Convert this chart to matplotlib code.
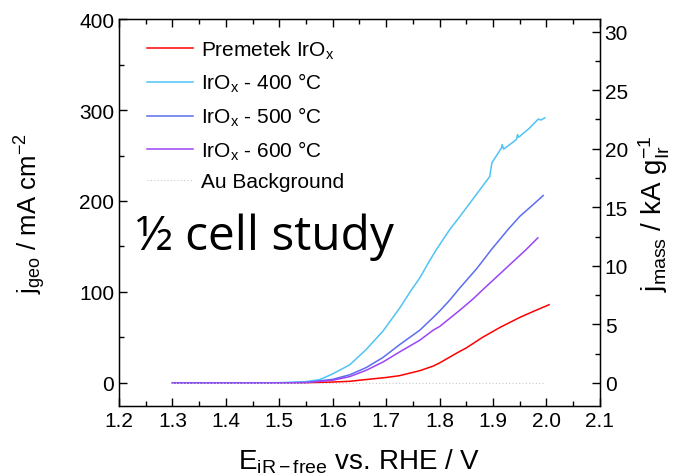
import matplotlib
matplotlib.use("Agg")
import matplotlib.pyplot as plt
from matplotlib.ticker import MultipleLocator

plt.rcParams["font.family"] = ["Liberation Sans", "DejaVu Sans"]
plt.rcParams["mathtext.fontset"] = "custom"
plt.rcParams["mathtext.rm"] = "Liberation Sans"
plt.rcParams["mathtext.it"] = "Liberation Sans:italic"
plt.rcParams["mathtext.default"] = "regular"

# 數據
E_premetek = [1.30, 1.40, 1.50, 1.55, 1.60, 1.632, 1.65, 1.70, 1.725, 1.763, 1.788,
              1.80, 1.838, 1.85, 1.88, 1.913, 1.95, 1.975, 2.005]
j_premetek = [0, 0, 0, 0.2, 1.0, 1.8, 3.0, 6.0, 8.0, 13.5, 18.5,
              22, 34.8, 38.5, 50, 61, 72, 78.5, 86]

E_400 = [1.30, 1.45, 1.50, 1.55, 1.576, 1.60, 1.632, 1.663, 1.694, 1.725, 1.747,
         1.763, 1.781, 1.794, 1.819, 1.838, 1.866, 1.894, 1.896, 1.898, 1.916,
         1.917, 1.92, 1.944, 1.946, 1.948, 1.969, 1.981, 1.985, 1.99, 1.997]
j_400 = [0, 0, 0.3, 1.5, 3.7, 10, 20, 37, 57, 82, 102,
         115.5, 134, 146.6, 168.6, 183, 205, 227, 235, 242, 258.5,
         262, 257, 267.6, 273, 270, 280.5, 287.8, 290, 289, 291.5]

E_500 = [1.30, 1.50, 1.55, 1.60, 1.632, 1.663, 1.694, 1.725, 1.763, 1.788, 1.80,
         1.819, 1.838, 1.87, 1.897, 1.928, 1.95, 1.975, 1.994]
j_500 = [0, 0, 0.5, 4, 9, 17, 28, 42, 58, 72, 79,
         91, 104.5, 126, 146.6, 168.6, 183, 196, 206]

E_600 = [1.30, 1.50, 1.55, 1.60, 1.632, 1.663, 1.694, 1.725, 1.763, 1.788, 1.80,
         1.838, 1.862, 1.88, 1.925, 1.962, 1.984]
j_600 = [0, 0, 0.4, 3, 7, 14, 23, 34, 47, 58, 62,
         80, 92, 102, 126.5, 146.6, 159.5]

E_au = [1.30, 1.995]
j_au = [0, 0]

labels = ["Premetek IrO$_x$", "IrO$_x$ - 400 °C", "IrO$_x$ - 500 °C",
          "IrO$_x$ - 600 °C", "Au Background"]
colors = ["#ff0000", "#4fc3f7", "#5b6ef0", "#9b45f5"]

# mA cm^-2 對應 1 kA g^-1
mass_factor = 12.87

fig = plt.figure(figsize=(6.74, 4.77), dpi=100)
ax = fig.add_axes([0.1766, 0.1474, 0.7134, 0.8106])

ax.plot(E_premetek, j_premetek, color=colors[0], lw=1.1, label=labels[0])
ax.plot(E_400, j_400, color=colors[1], lw=1.1, label=labels[1])
ax.plot(E_500, j_500, color=colors[2], lw=1.1, label=labels[2])
ax.plot(E_600, j_600, color=colors[3], lw=1.1, label=labels[3])
ax.plot(E_au, j_au, color="#c8c8c8", lw=0.8, linestyle=(0, (1, 2)), label=labels[4])

ax.set_xlim(1.2, 2.1)
ax.set_ylim(-25, 400)
ax.xaxis.set_minor_locator(MultipleLocator(0.05))
ax.yaxis.set_major_locator(MultipleLocator(100))
ax.yaxis.set_minor_locator(MultipleLocator(50))
ax.set_xticks([1.2, 1.3, 1.4, 1.5, 1.6, 1.7, 1.8, 1.9, 2.0, 2.1])
ax.set_xticklabels(["1.2", "1.3", "1.4", "1.5", "1.6", "1.7", "1.8", "1.9", "2.0", "2.1"])
ax.tick_params(which="both", direction="in", top=True, labelsize=15, width=1.0)
ax.tick_params(which="major", length=6)
ax.tick_params(which="minor", length=3.5)
for s in ax.spines.values():
    s.set_linewidth(1.0)

ax.set_xlabel("E$_{iR-free}$ vs. RHE / V", fontsize=20, labelpad=12)
ax.set_ylabel("j$_{geo}$ / mA cm$^{-2}$", fontsize=18.5, labelpad=22)

ax2 = ax.twinx()
ax2.set_ylim(-25 / mass_factor, 400 / mass_factor)
ax2.yaxis.set_major_locator(MultipleLocator(5))
ax2.yaxis.set_minor_locator(MultipleLocator(2.5))
ax2.tick_params(which="both", direction="in", labelsize=15, width=1.0)
ax2.tick_params(which="major", length=6)
ax2.tick_params(which="minor", length=3.5)
ax2.set_ylabel("j$_{mass}$ / kA g$_{Ir}^{-1}$", fontsize=20, rotation=90, labelpad=6)

ax.legend(loc="upper left", bbox_to_anchor=(0.058, 0.95), frameon=False, fontsize=15,
          handlelength=2.2, handletextpad=0.4, labelspacing=0.5, borderaxespad=0,
          borderpad=0)

ax.text(0.035, 0.405, "½ cell study", transform=ax.transAxes, fontsize=34.5,
        family=["Open Sans", "DejaVu Sans"], ha="left", va="baseline")

fig.savefig("out.png", dpi=100)
